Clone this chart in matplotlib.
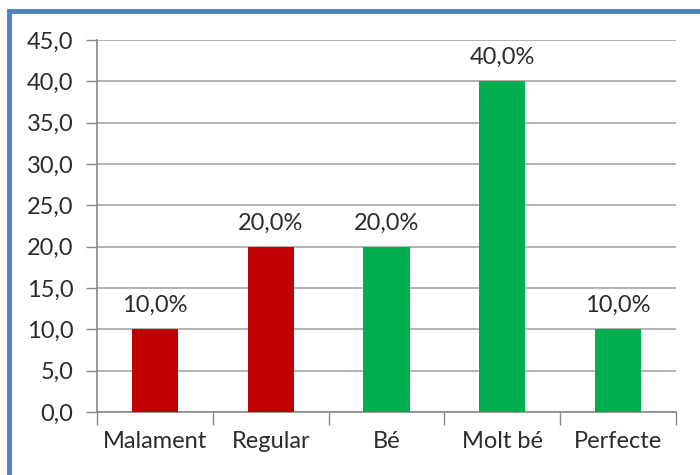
import matplotlib.pyplot as plt
from matplotlib.patches import Rectangle

categories = ['Malament', 'Regular', 'Bé', 'Molt bé', 'Perfecte']
values = [10.0, 20.0, 20.0, 40.0, 10.0]
bar_colors = ['#C00000', '#C00000', '#00B050', '#00B050', '#00B050']
yticks = [0, 5, 10, 15, 20, 25, 30, 35, 40, 45]

plt.rcParams['font.family'] = ['Lato', 'DejaVu Sans']
fs = 17
txt = '#2b2b2b'

fig = plt.figure(figsize=(7, 4.75), dpi=100)
# blue frame, only left and top edges visible
fig.patches.append(Rectangle((9 / 700, -0.1), 1.2, (475 - 11) / 475 + 0.1,
                             transform=fig.transFigure, fill=False,
                             edgecolor='#4F81BD', linewidth=3.5))

ax = fig.add_axes([97 / 700, (475 - 412) / 475, 579 / 700, 372 / 475])
x = range(len(categories))
ax.bar(x, values, width=0.4, color=bar_colors, zorder=3)
for i, v in enumerate(values):
    ax.text(i, v + 1.6, f'{v:.1f}%'.replace('.', ','), ha='center', va='bottom',
            fontsize=fs, color=txt)

ax.set_xlim(-0.5, len(categories) - 0.5)
ax.set_ylim(0, 45)
ax.set_yticks(yticks)
ax.set_yticklabels([f'{t:.1f}'.replace('.', ',') for t in yticks], fontsize=fs, color=txt)
ax.set_xticks(list(x))
ax.set_xticklabels(categories, fontsize=fs, color=txt)
ax.set_xticks([i + 0.5 for i in range(-1, len(categories))], minor=True)
ax.tick_params(axis='x', which='major', length=0, pad=14)
ax.tick_params(axis='x', which='minor', length=9, color='#888888', width=1)
ax.tick_params(axis='y', length=8, color='#888888', width=1, pad=9)
ax.grid(axis='y', color='#A6A6A6', linewidth=1.2, zorder=0)
for s in ['top', 'right']:
    ax.spines[s].set_visible(False)
for s in ['left', 'bottom']:
    ax.spines[s].set_color('#888888')
    ax.spines[s].set_linewidth(1.2)

fig.savefig('out.png', dpi=100)
